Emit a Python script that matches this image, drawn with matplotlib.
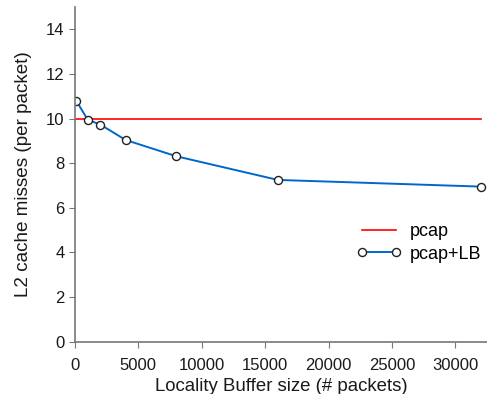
import matplotlib
matplotlib.use("Agg")
import matplotlib.pyplot as plt

# Locality Buffer sizes (# packets) and L2 misses per packet
lb_size = [100, 1000, 2000, 4000, 8000, 16000, 32000]
pcap_lb = [10.80, 9.95, 9.73, 9.04, 8.31, 7.25, 6.95]
pcap = [10.0, 10.0]
pcap_x = [100, 32000]

plt.rcParams['font.family'] = ['Liberation Sans', 'DejaVu Sans']

fig = plt.figure(figsize=(4.87, 3.94), dpi=100)
ax = fig.add_axes([0.154, 0.133, 0.846, 0.849])

ax.plot(pcap_x, pcap, color='#ff0000', lw=1.2, label='pcap')
ax.plot(lb_size, pcap_lb, color='#0066cc', lw=1.4, marker='o', ms=5.8,
        mfc='white', mec='#222222', mew=1.0, label='pcap+LB')

ax.set_xlim(0, 32500)
ax.set_ylim(0, 15)
ax.set_xticks([0, 5000, 10000, 15000, 20000, 25000, 30000])
ax.set_yticks([0, 2, 4, 6, 8, 10, 12, 14])

for s in ['top', 'right']:
    ax.spines[s].set_visible(False)
for s in ['left', 'bottom']:
    ax.spines[s].set_color('#777777')
    ax.spines[s].set_linewidth(1.2)
ax.tick_params(direction='out', length=4, color='#777777', labelsize=12,
               labelcolor='#1a1a1a')
ax.tick_params(axis='x', pad=7.5)

ax.set_xlabel('Locality Buffer size (# packets)', fontsize=13.4, color='#1a1a1a', labelpad=4)
ax.set_ylabel('L2 cache misses (per packet)', fontsize=13.6, color='#1a1a1a', labelpad=10)

ax.legend(loc='upper left', bbox_to_anchor=(0.665, 0.375), frameon=False,
          numpoints=2, fontsize=13, handlelength=2.5, handletextpad=0.45,
          labelspacing=0.3, borderaxespad=0)

fig.savefig('out.png', dpi=100)
